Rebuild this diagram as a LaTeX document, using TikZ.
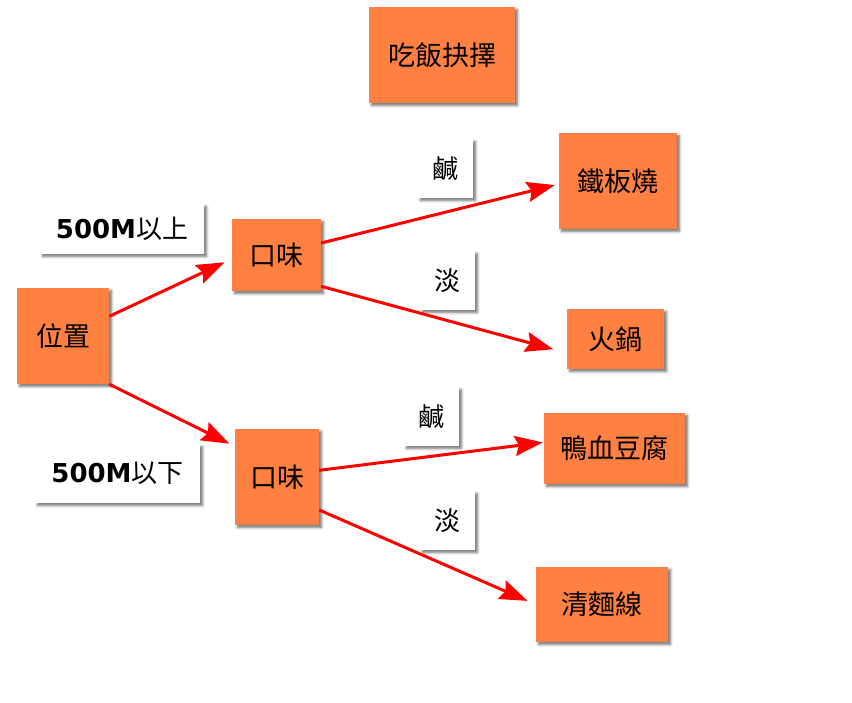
\documentclass[tikz,border=0pt]{standalone}
\usepackage{fontspec}
\setmainfont{Noto Sans CJK TC}
\newfontfamily\numfont{DejaVu Sans}
\usetikzlibrary{arrows.meta,shadows.blur}

\definecolor{boxorange}{RGB}{255,128,64}

\tikzset{
  soft/.style={blur shadow={shadow xshift=2.5pt, shadow yshift=-2.5pt, shadow blur steps=6, shadow blur radius=2.5pt, shadow opacity=55}},
  choice/.style={fill=boxorange, inner sep=0pt, soft, font=\fontsize{27}{30}\selectfont},
  tag/.style={fill=white, inner sep=0pt, soft, font=\fontsize{26}{30}\selectfont},
  link/.style={draw=red, line width=3pt, -{Stealth[length=28pt,width=20pt,inset=4pt]}},
}

\begin{document}
\begin{tikzpicture}[x=1pt,y=-1pt]
        \useasboundingbox (0,0) rectangle (852,703);

        % boxes
        \node[choice, minimum width=146pt, minimum height=96pt] (title) at (442,55) {吃飯抉擇};
        \node[choice, minimum width=92pt, minimum height=96pt] (loc) at (63,336) {位置};
        \node[choice, minimum width=89pt, minimum height=72pt] (tasteUp) at (276.5,255) {口味};
        \node[choice, minimum width=84pt, minimum height=96pt] (tasteDown) at (277,477) {口味};
        \node[choice, minimum width=118pt, minimum height=96pt] (teppan) at (618,181) {鐵板燒};
        \node[choice, minimum width=97pt, minimum height=60pt] (hotpot) at (615.5,339) {火鍋};
        \node[choice, minimum width=141pt, minimum height=71pt] (duckblood) at (614.5,448.5) {鴨血豆腐};
        \node[choice, minimum width=132pt, minimum height=75pt] (misua) at (602,604.5) {清麵線};

        % labels
        \node[tag, minimum width=164pt, minimum height=50pt] (far) at (122,229) {{\numfont\bfseries 500M}以上};
        \node[tag, minimum width=165pt, minimum height=59pt] (near) at (117.5,473.5) {{\numfont\bfseries 500M}以下};
        \node[tag, minimum width=55pt, minimum height=59pt] (saltyUp) at (445.5,168.5) {鹹};
        \node[tag, minimum width=55pt, minimum height=59pt] (plainUp) at (447.5,280.5) {淡};
        \node[tag, minimum width=55pt, minimum height=59pt] (saltyDown) at (431.5,416.5) {鹹};
        \node[tag, minimum width=55pt, minimum height=59pt] (plainDown) at (447.5,520.5) {淡};

        % arrows
        \draw[link, shorten >=8pt] (loc.23) -- (tasteUp.185);
        \draw[link, shorten >=6pt] (loc.south east) -- (tasteDown.144);
        \draw[link, shorten >=4pt] (tasteUp.15) -- (teppan.183);
        \draw[link, shorten >=14pt] (tasteUp.325) -- (hotpot.196);
        \draw[link, shorten >=1pt] (tasteDown.9) -- (duckblood.175);
        \draw[link, shorten >=9pt] (tasteDown.322) -- (misua.180);
\end{tikzpicture}
\end{document}
